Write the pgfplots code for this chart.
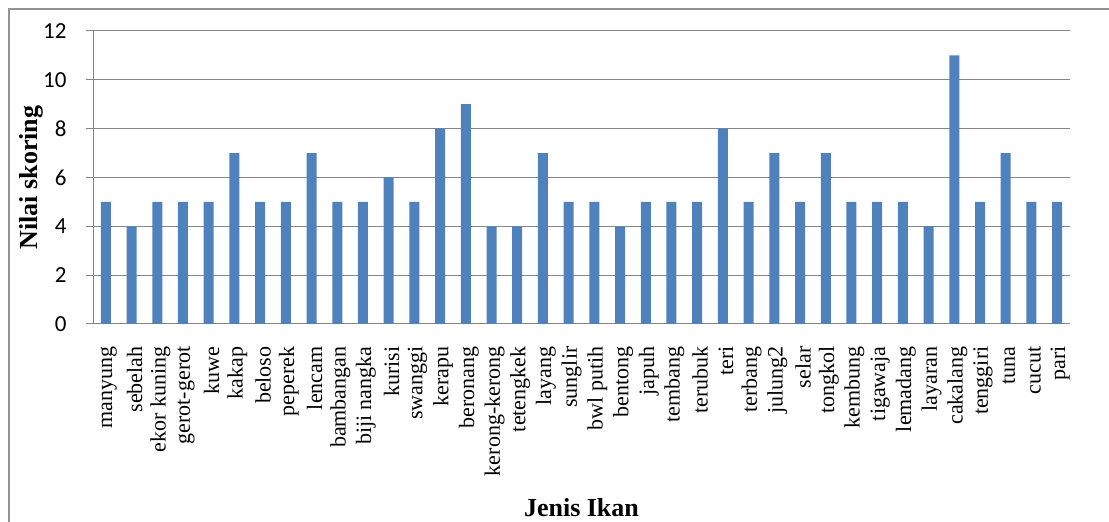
\documentclass[border=0pt]{standalone}
\usepackage{pgfplots}
\pgfplotsset{compat=1.18}
\usepackage{fontspec}
\setmainfont{Liberation Serif}
\newfontfamily\carlito{Carlito}
\definecolor{barblue}{HTML}{4F81BD}
\definecolor{gridgray}{HTML}{868686}

\pgfplotstableread{
idx value
0 5
1 4
2 5
3 5
4 5
5 7
6 5
7 5
8 7
9 5
10 5
11 6
12 5
13 8
14 9
15 4
16 4
17 7
18 5
19 5
20 4
21 5
22 5
23 5
24 8
25 5
26 7
27 5
28 7
29 5
30 5
31 5
32 4
33 11
34 5
35 7
36 5
37 5
}\skoring

\begin{document}
\begin{tikzpicture}
\useasboundingbox (0,0) rectangle (1109pt,522pt);
% outer chart frame
\draw[gridgray!90, line width=1.6pt] (9pt,-20pt) -- (9pt,513pt) -- (1130pt,513pt);
\begin{axis}[
  at={(93pt,198pt)}, anchor=south west,
  scale only axis, width=977pt, height=293pt,
  xmin=-0.5, xmax=37.5, ymin=0, ymax=12,
  ytick={0,2,...,12},
  xtick={0,...,37},
  xticklabels={manyung,sebelah,ekor kuning,gerot-gerot,kuwe,kakap,beloso,peperek,lencam,bambangan,biji nangka,kurisi,swanggi,kerapu,beronang,kerong-kerong,tetengkek,layang,sunglir,bwl putih,bentong,japuh,tembang,terubuk,teri,terbang,julung2,selar,tongkol,kembung,tigawaja,lemadang,layaran,cakalang,tenggiri,tuna,cucut,pari},
  minor xtick={-0.5,0.5,...,37.5},
  axis x line*=bottom, axis y line*=left,
  axis line style={gridgray, line width=1pt, -},
  ymajorgrids, major grid style={gridgray, line width=1pt},
  tick align=outside,
  x tick style={draw=none},
  minor x tick style={gridgray, line width=1pt},
  minor tick length=6pt,
  y tick style={gridgray, line width=1pt},
  major tick length=7pt,
  xticklabel style={rotate=90, anchor=east, font=\fontsize{22}{22}\selectfont, xshift=-12pt, yshift=-3pt},
  yticklabel style={font=\carlito\fontsize{23}{23}\selectfont, xshift=-16pt},
  /pgf/number format/assume math mode=true,
  xlabel={\textbf{Jenis Ikan}},
  ylabel={\textbf{Nilai skoring}},
  xlabel style={at={(axis description cs:0.5,-0.625)}, anchor=center, font=\fontsize{26}{26}\selectfont},
  ylabel style={at={(axis description cs:-0.0635,0.5)}, anchor=center, rotate=0, font=\fontsize{26}{26}\selectfont},
  clip=false,
]
\addplot[ybar, bar width=10pt, fill=barblue, draw=none] table[x=idx, y=value] {\skoring};
\end{axis}
\end{tikzpicture}
\end{document}
